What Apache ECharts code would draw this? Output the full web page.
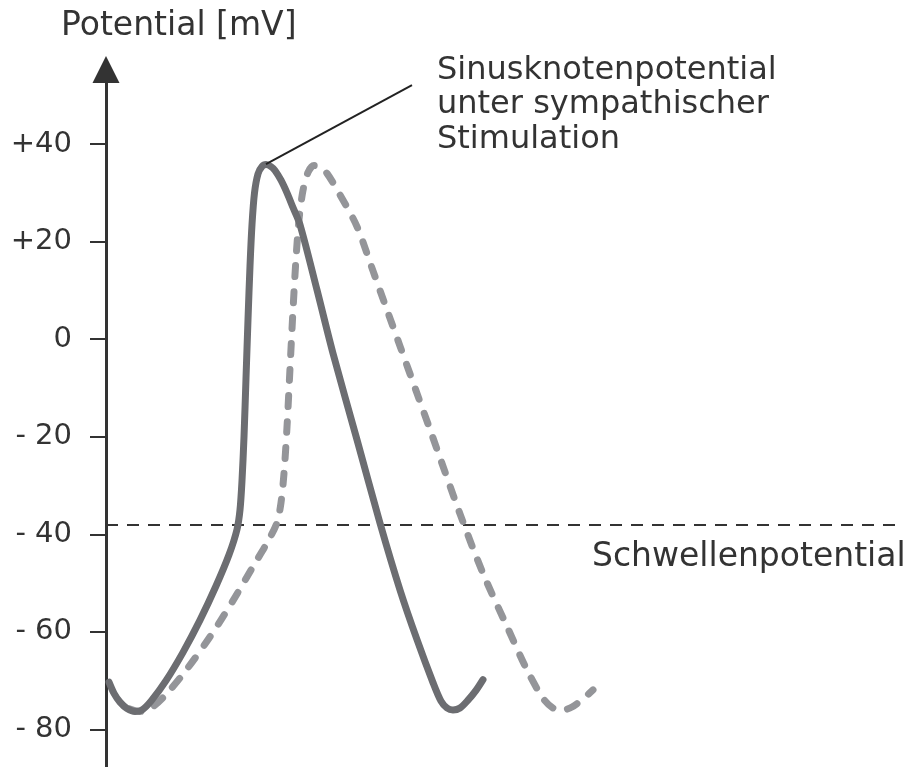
<!DOCTYPE html>
<html>
<head>
<meta charset="utf-8">
<script src="https://cdn.jsdelivr.net/npm/echarts@6/dist/echarts.min.js"></script>
<style>
  html, body { margin: 0; padding: 0; background: #fff; }
  #chart { width: 917px; height: 767px; }
</style>
</head>
<body>
<div id="chart"></div>
<script>
// Y axis ticks (mV)
const yTicks = [-80, -60, -40, -20, 0, 20, 40];
const thresholdMv = -38;

// Sinus node potential under sympathetic stimulation (solid) [time, mV]
const sympatheticCurve = [
  [3, -70.3], [8, -72.6], [14, -74.4], [21, -75.7], [29, -76.3], [36, -76.0],
  [45, -74.2], [60, -70.0], [77, -64.2], [94, -57.6], [110, -50.6], [123, -44.2],
  [131, -39.0], [134, -35.0], [136, -29.0], [138, -20.0], [140, -8.0], [142, 4.0],
  [144, 15.0], [146, 23.5], [148.5, 30.0], [152, 33.9], [156, 35.4], [160, 35.8],
  [165, 35.4], [169, 34.6], [175, 32.6], [181, 30.0], [187, 27.0], [194, 23.5],
  [211, 10.1], [227, -2.9], [251, -20.6], [274, -37.7], [294, -51.4], [311, -61.6],
  [327, -70.4], [335, -74.2], [341, -75.6], [347, -76.0], [354, -75.6], [362, -74.0],
  [370, -72.0], [377, -69.8]
];

// Normal sinus node potential (dashed) [time, mV]
const normalCurve = [
  [24, -75.8], [34, -76.3], [47, -75.3], [61, -72.6], [81, -67.6], [104, -61.0],
  [127, -53.6], [147, -46.6], [162, -41.4], [171, -37.6], [175, -33.5], [178, -27.5],
  [181, -18.0], [184, -6.0], [187, 6.0], [190, 16.5], [193, 24.5], [197, 30.5],
  [202, 34.2], [208, 35.6], [214, 35.3], [221, 34.0], [234, 29.6], [251, 23.1],
  [267, 14.0], [281, 6.0], [294, -1.4], [311, -11.1], [324, -18.5], [354, -35.8],
  [377, -48.0], [401, -58.9], [421, -67.8], [437, -73.6], [447, -75.6], [457, -76.0],
  [466, -75.4], [476, -73.9], [487, -71.9]
];

// Annotation leader line: from the peak of the solid curve to the label
const leaderStart = [160, 35.9];
const leaderEnd = [306, 52.1];
const thresholdSpan = [0, 794];

const chart = echarts.init(document.getElementById('chart'), null, { renderer: 'canvas' });
const FONT = '"DejaVu Sans", sans-serif';

const fmt = v => v > 0 ? '+' + v : (v < 0 ? '- ' + (-v) : '0');

chart.setOption({
  animation: false,
  backgroundColor: '#ffffff',
  grid: { left: 106, right: 0, top: 69.5, bottom: 0, containLabel: false, outerBoundsMode: 'none' },
  xAxis: {
    type: 'value', min: 0, max: 811, show: false
  },
  yAxis: {
    type: 'value', min: -87.7, max: 55.3,
    splitLine: { show: false },
    axisLine: {
      show: true, onZero: false,
      symbol: ['none', 'triangle'], symbolSize: [27, 27],
      lineStyle: { color: '#333333', width: 3 }
    },
    axisTick: {
      show: true, length: 16, customValues: yTicks,
      lineStyle: { color: '#333333', width: 2 }
    },
    axisLabel: {
      show: true, customValues: yTicks, formatter: fmt, margin: 34,
      color: '#333333', fontFamily: FONT, fontSize: 29
    }
  },
  graphic: [
    { type: 'text', left: 61, top: 10,
      style: { text: 'Potential [mV]', font: '33px ' + FONT, fill: '#333333' } },
    { type: 'text', left: 437, top: 53,
      style: { text: 'Sinusknotenpotential\nunter sympathischer\nStimulation',
               font: '32px ' + FONT, lineHeight: 34.6, fill: '#333333' } },
    { type: 'text', left: 592, top: 541,
      style: { text: 'Schwellenpotential', font: '33px ' + FONT, fill: '#333333' } }
  ],
  series: [
    {
      name: 'normal', type: 'line', data: normalCurve, showSymbol: false,
      smooth: 0.3, z: 2,
      lineStyle: { color: '#949599', width: 7, type: [11, 15], cap: 'round', join: 'round' },
      markLine: {
        silent: true, symbol: 'none', z: 1,
        label: { show: false },
        lineStyle: { color: '#333333', width: 2, type: [12, 9] },
        data: [[{ coord: [thresholdSpan[0], thresholdMv] }, { coord: [thresholdSpan[1], thresholdMv] }]]
      }
    },
    {
      name: 'sympathisch', type: 'line', data: sympatheticCurve, showSymbol: false,
      smooth: 0.3, z: 3,
      lineStyle: { color: '#6c6d71', width: 7, cap: 'round', join: 'round' },
      markLine: {
        silent: true, symbol: 'none',
        label: { show: false },
        lineStyle: { color: '#222222', width: 2, type: 'solid' },
        data: [[{ coord: leaderStart }, { coord: leaderEnd }]]
      }
    }
  ]
});
</script>
</body>
</html>
